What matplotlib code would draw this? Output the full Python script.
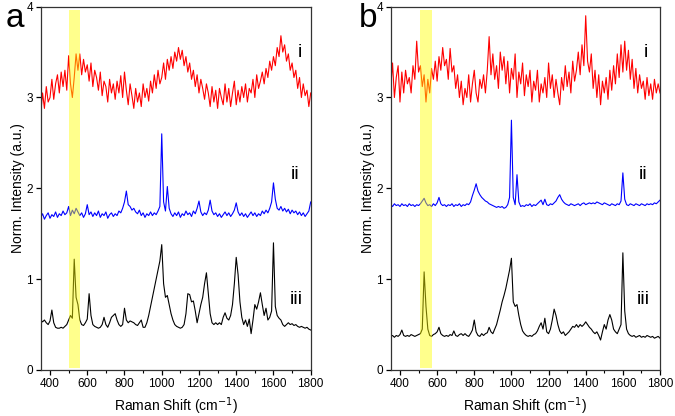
import numpy as np
import matplotlib
matplotlib.use("Agg")
from matplotlib import pyplot as plt
from matplotlib.ticker import MultipleLocator

plt.rcParams['font.family'] = ['Liberation Sans', 'DejaVu Sans']

# Raman shift grid (cm-1), one reading every 10 cm-1
shift = np.arange(350, 1801, 10)

# panel a
a_i = [2.82, 3.05, 2.88, 3.12, 2.95, 3.0, 3.2, 2.98, 3.15, 3.25,
       3.05, 3.28, 3.12, 3.3, 3.08, 3.46, 3.15, 3.0, 3.22, 3.48,
       3.3, 3.48, 3.25, 3.42, 3.28, 3.36, 3.18, 3.38, 3.12, 3.3,
       3.22, 3.08, 3.28, 3.02, 3.18, 3.12, 2.95, 3.2, 3.05, 3.15,
       2.98, 3.18, 3.05, 3.24, 3.0, 3.28, 3.08, 2.92, 3.15, 3.02,
       2.88, 3.1, 2.95, 3.05, 2.9, 3.15, 3.0, 3.1, 2.96, 3.18,
       3.05, 3.25, 3.1, 3.3, 3.15, 3.22, 3.38, 3.2, 3.42, 3.3,
       3.45, 3.32, 3.5, 3.4, 3.55, 3.42, 3.52, 3.35, 3.45, 3.28,
       3.38, 3.2, 3.3, 3.12, 3.25, 3.05, 3.2, 3.1, 2.98, 3.15,
       3.05, 2.9, 3.12, 2.95, 3.08, 2.88, 3.1, 3.0, 2.92, 3.15,
       2.95, 3.1, 2.9, 3.05, 3.18, 2.92, 3.08, 2.95, 3.12, 3.0,
       3.15, 2.95, 3.1, 3.05, 3.2, 3.0, 3.25, 3.1, 3.18, 3.28,
       3.15, 3.32, 3.22, 3.4, 3.3, 3.45, 3.35, 3.55, 3.45, 3.68,
       3.5, 3.58, 3.4, 3.48, 3.3, 3.38, 3.22, 3.3, 3.1, 3.22,
       3.0, 3.15, 3.02, 3.08, 2.9, 3.05]
a_ii = [1.68, 1.72, 1.66, 1.7, 1.73, 1.67, 1.71, 1.69, 1.74, 1.68,
        1.72, 1.7, 1.75, 1.71, 1.73, 1.8, 1.7, 1.76, 1.72, 1.78,
        1.74, 1.7, 1.73, 1.68, 1.72, 1.82, 1.71, 1.74, 1.69, 1.73,
        1.7, 1.75, 1.68, 1.72, 1.7, 1.74, 1.67, 1.71, 1.73, 1.69,
        1.72, 1.7, 1.75, 1.73, 1.78, 1.85, 1.97, 1.82, 1.8, 1.76,
        1.78, 1.74, 1.72, 1.76, 1.7, 1.73, 1.68, 1.72, 1.7, 1.74,
        1.7, 1.73, 1.71, 1.75, 1.8, 2.6, 1.85, 1.75, 2.02, 1.78,
        1.72, 1.69, 1.73, 1.7, 1.74, 1.68, 1.72, 1.7, 1.75, 1.71,
        1.73, 1.69, 1.75, 1.72, 1.78, 1.86, 1.74, 1.7, 1.73, 1.71,
        1.76, 1.87, 1.75, 1.71, 1.73, 1.69, 1.72, 1.68, 1.71, 1.74,
        1.7, 1.73, 1.69, 1.72, 1.76, 1.84, 1.74, 1.7, 1.73, 1.69,
        1.72, 1.68, 1.71, 1.74, 1.7, 1.73, 1.69, 1.72, 1.7, 1.75,
        1.72, 1.76, 1.73, 1.78, 1.85, 2.06, 1.88, 1.78, 1.76, 1.8,
        1.75, 1.78, 1.74, 1.77, 1.72, 1.76, 1.73, 1.75, 1.71, 1.74,
        1.7, 1.73, 1.69, 1.72, 1.75, 1.85]
a_iii = [0.55, 0.53, 0.55, 0.52, 0.5, 0.54, 0.66, 0.52, 0.47, 0.46,
         0.46, 0.47, 0.46, 0.48, 0.5, 0.55, 0.6, 0.57, 1.22, 0.8,
         0.72, 0.55, 0.5, 0.49, 0.52, 0.56, 0.84, 0.6, 0.5, 0.48,
         0.47, 0.46, 0.47, 0.5, 0.58, 0.5, 0.47, 0.52, 0.58, 0.6,
         0.62, 0.55, 0.5, 0.48, 0.5, 0.68, 0.55, 0.52, 0.54, 0.53,
         0.52, 0.5, 0.49, 0.52, 0.55, 0.47, 0.47, 0.52, 0.6, 0.7,
         0.8, 0.9, 1.0, 1.1, 1.2, 1.38, 0.95, 0.8, 0.82, 0.72,
         0.62, 0.55, 0.5, 0.48, 0.47, 0.46, 0.47, 0.5, 0.62, 0.84,
         0.83, 0.75, 0.76, 0.65, 0.52, 0.62, 0.72, 0.8, 0.95, 1.07,
         0.85, 0.62, 0.52, 0.5, 0.52, 0.5, 0.52, 0.5, 0.58, 0.63,
         0.57, 0.55, 0.6, 0.72, 0.95, 1.24, 1.05, 0.75, 0.58, 0.5,
         0.55, 0.48, 0.56, 0.4, 0.55, 0.72, 0.67, 0.75, 0.85, 0.72,
         0.6, 0.68, 0.55, 0.58, 0.65, 1.4, 0.7, 0.6, 0.57, 0.55,
         0.5, 0.48, 0.5, 0.52, 0.5, 0.51, 0.49, 0.5, 0.48, 0.47,
         0.48, 0.47, 0.46, 0.47, 0.45, 0.44]

# panel b
b_i = [3.1, 3.38, 3.0, 3.22, 3.35, 2.95, 3.28, 3.05, 3.3, 3.15,
       3.22, 3.05, 3.35, 3.2, 3.62, 3.28, 3.35, 3.12, 3.25, 2.95,
       3.2, 3.05, 3.32, 3.2, 3.4, 3.18, 3.45, 3.3, 3.55, 3.35,
       3.42, 3.2, 3.54, 3.28, 3.35, 3.1, 3.25, 3.0, 3.18, 2.92,
       3.1, 3.0, 3.25, 2.95, 3.15, 3.3, 3.05, 2.95, 3.2, 3.1,
       3.25, 3.05, 3.3, 3.67, 3.25, 3.48, 3.2, 3.35, 3.1, 3.5,
       3.3, 3.45, 3.15, 3.4, 3.05, 3.32, 3.2, 3.48, 3.0, 3.28,
       3.15, 3.38, 3.02, 3.25, 3.12, 3.3, 2.95, 3.18, 3.08, 3.3,
       2.95, 3.15, 3.05, 3.22, 3.0, 3.38, 3.1, 3.25, 3.0, 3.2,
       3.05, 2.92, 3.22, 3.08, 3.35, 3.12, 3.28, 3.05, 3.4, 3.18,
       3.3, 3.5, 3.25, 3.58, 3.35, 3.9, 3.4, 3.28, 3.48, 3.1,
       3.3, 3.0, 3.25, 2.92, 3.18, 3.05, 3.22, 2.98, 3.3, 3.08,
       3.35, 3.15, 3.48, 3.22, 3.58, 3.28, 3.62, 3.3, 3.52, 3.2,
       3.42, 3.1, 3.32, 3.05, 3.25, 3.1, 3.18, 2.98, 3.22, 3.02,
       3.15, 2.98, 3.2, 3.05, 3.15, 3.05]
b_ii = [1.82, 1.8, 1.83, 1.81, 1.82, 1.8, 1.83, 1.81, 1.82, 1.8,
        1.83, 1.81, 1.82, 1.8, 1.82, 1.81, 1.83, 1.86, 1.89, 1.84,
        1.81, 1.82, 1.8, 1.83, 1.81, 1.84, 1.9, 1.83, 1.81, 1.82,
        1.8, 1.82, 1.81, 1.83, 1.8, 1.82, 1.81, 1.83, 1.8, 1.82,
        1.81, 1.83, 1.82, 1.85, 1.92, 1.98, 2.05, 1.97, 1.93, 1.9,
        1.88, 1.86, 1.85, 1.83, 1.82, 1.81, 1.8, 1.79, 1.8, 1.79,
        1.8, 1.78, 1.79, 1.82, 1.9, 2.75, 1.9, 1.82, 2.15, 1.85,
        1.8, 1.81, 1.8, 1.82, 1.81, 1.83, 1.8, 1.82, 1.81, 1.83,
        1.85, 1.87, 1.82, 1.88, 1.82, 1.81, 1.83, 1.82, 1.84, 1.86,
        1.9, 1.93, 1.88, 1.85, 1.83, 1.82, 1.81, 1.83, 1.82, 1.81,
        1.82, 1.83, 1.81, 1.83, 1.84, 1.82, 1.83, 1.84, 1.83, 1.84,
        1.83, 1.85, 1.84, 1.83, 1.82, 1.84, 1.83, 1.82, 1.81, 1.83,
        1.82, 1.81, 1.83, 1.82, 1.86, 2.17, 1.88, 1.82, 1.81, 1.83,
        1.82, 1.81, 1.83, 1.82, 1.81, 1.83, 1.82, 1.81, 1.83, 1.82,
        1.83, 1.82, 1.84, 1.83, 1.85, 1.87]
b_iii = [0.37, 0.38, 0.36, 0.38, 0.37, 0.39, 0.44, 0.38, 0.37, 0.38,
         0.37, 0.39, 0.38, 0.37, 0.38, 0.39, 0.4, 0.45, 1.08, 0.7,
         0.45, 0.38, 0.37, 0.39, 0.4, 0.42, 0.47, 0.4, 0.38, 0.37,
         0.38, 0.37, 0.39, 0.38, 0.43, 0.38, 0.37, 0.39, 0.4, 0.38,
         0.4, 0.38, 0.37, 0.4, 0.44, 0.55, 0.42, 0.38, 0.37, 0.4,
         0.38, 0.4, 0.41, 0.47, 0.42, 0.4, 0.45, 0.5, 0.58, 0.66,
         0.75, 0.82, 0.9, 1.0, 1.1, 1.23, 0.75, 0.7, 0.72, 0.6,
         0.5, 0.43, 0.4, 0.38, 0.37, 0.38, 0.37, 0.39, 0.4, 0.43,
         0.48, 0.52, 0.45, 0.57, 0.42, 0.4, 0.45, 0.55, 0.67, 0.6,
         0.5, 0.43, 0.4, 0.42, 0.38, 0.4, 0.42, 0.45, 0.48, 0.47,
         0.5, 0.47, 0.5, 0.48, 0.5, 0.53, 0.5, 0.47, 0.45, 0.42,
         0.4, 0.42, 0.38, 0.33, 0.42, 0.5, 0.45, 0.55, 0.61, 0.55,
         0.45, 0.42, 0.4, 0.45, 0.5, 1.29, 0.65, 0.45, 0.4, 0.38,
         0.37, 0.38, 0.36, 0.37, 0.38, 0.36, 0.37, 0.36, 0.38, 0.37,
         0.36, 0.37, 0.35, 0.36, 0.37, 0.35]

curve_names = ['i', 'ii', 'iii']
band_a = (500, 560)
band_b = (510, 570)

fig = plt.figure(figsize=(6.75, 4.16), dpi=100)
ax_a = fig.add_axes([0.0603, 0.1106, 0.400, 0.8734])
ax_b = fig.add_axes([0.5788, 0.1106, 0.399, 0.8734])

panels = [(ax_a, 'a', [a_i, a_ii, a_iii], band_a, [1742, 1715, 1722]),
          (ax_b, 'b', [b_i, b_ii, b_iii], band_b, [1725, 1709, 1709])]

for ax, letter, curves, band, name_x in panels:
    for ys, col in zip(curves, ['#ff0000', '#0000ff', '#000000']):
        ax.plot(shift, ys, color=col, lw=0.8)
    # highlighted region drawn over the spectra
    ax.axvspan(band[0], band[1], ymin=0.005, ymax=0.99,
               color='#ffff00', alpha=0.45, lw=0, zorder=5)
    for name, nx, ny in zip(curve_names, name_x, [3.49, 2.15, 0.78]):
        ax.text(nx, ny, name, fontsize=14, ha='center', va='center')
    ax.set_xlim(350, 1800)
    ax.set_ylim(0, 4)
    ax.set_xticks(range(400, 1801, 200))
    ax.xaxis.set_minor_locator(MultipleLocator(100))
    ax.set_yticks([0, 1, 2, 3, 4])
    ax.tick_params(direction='out', length=3.5, width=0.9, labelsize=8.5, pad=2)
    ax.tick_params(which='minor', direction='out', length=2, width=0.8)
    for sp in ax.spines.values():
        sp.set_linewidth(0.9)
        sp.set_color('#333333')
    ax.set_xlabel('Raman Shift (cm$^{-1}$)', fontsize=10, labelpad=4)
    ax.set_ylabel('Norm. Intensity (a.u.)', fontsize=10, labelpad=1)

fig.text(0.022, 0.955, 'a', fontsize=24, ha='center', va='center')
fig.text(0.545, 0.955, 'b', fontsize=24, ha='center', va='center')

fig.savefig('out.png', dpi=100)
